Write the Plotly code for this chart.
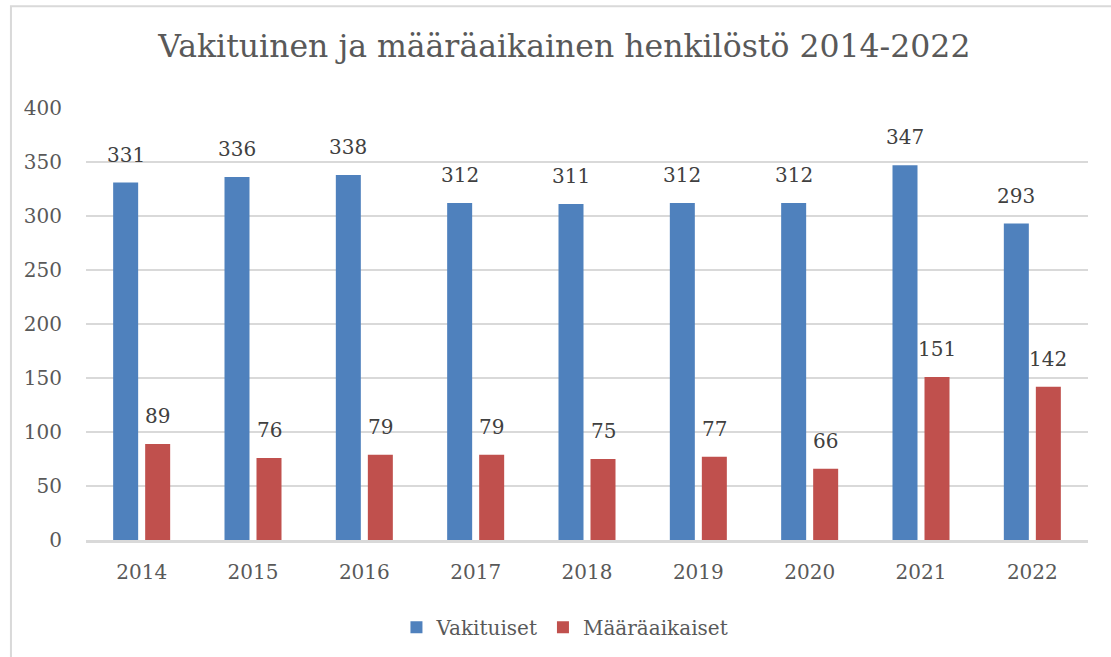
import plotly.graph_objects as go

years = ["2014", "2015", "2016", "2017", "2018", "2019", "2020", "2021", "2022"]
vakituiset = [331, 336, 338, 312, 311, 312, 312, 347, 293]
maaraaikaiset = [89, 76, 79, 79, 75, 77, 66, 151, 142]
series_names = ["Vakituiset", "Määräaikaiset"]
series_colors = ["#4F81BD", "#C0504D"]
title_text = "Vakituinen ja määräaikainen henkilöstö 2014-2022"

FONT = "DejaVu Serif"
BARGAP = 0.425
BARGROUPGAP = 0.219

fig = go.Figure()
for name, vals, col in zip(series_names, [vakituiset, maaraaikaiset], series_colors):
    fig.add_trace(go.Bar(name=name, x=years, y=vals, marker_color=col,
                         marker_line_width=0))

# label positions: category index +/- half of a bar slot
slot = (1 - BARGAP) / 2
annotations = []
for off, vals in zip([-slot / 2, slot / 2], [vakituiset, maaraaikaiset]):
    for i, v in enumerate(vals):
        annotations.append(dict(x=i + off, y=v, xref="x", yref="y", text=str(v),
                                showarrow=False, yshift=14, yanchor="bottom",
                                font=dict(family=FONT, size=20, color="#404040")))

fig.update_layout(
    width=1111, height=657,
    margin=dict(l=86, r=23, t=108, b=116),
    paper_bgcolor="white", plot_bgcolor="white",
    barmode="group", bargap=BARGAP, bargroupgap=BARGROUPGAP,
    title=dict(text=title_text, x=0.508, xanchor="center", y=0.93, yanchor="middle",
               font=dict(family=FONT, size=31.5, color="#595959")),
    font=dict(family=FONT, size=20, color="#595959"),
    legend=dict(orientation="h", x=0.478, xanchor="center", y=-0.199, yanchor="middle",
                font=dict(family=FONT, size=20, color="#595959"),
                itemwidth=30, traceorder="normal"),
    annotations=annotations,
    shapes=[dict(type="rect", xref="paper", yref="paper",
                 x0=-0.0749, x1=1.2, y0=-0.5, y1=1.2356,
                 line=dict(color="#d9d9d9", width=2), layer="below")],
)
fig.update_yaxes(range=[0, 400], dtick=50, showgrid=True, gridcolor="#d9d9d9",
                 gridwidth=1.5, zeroline=False, showline=False, ticks="",
                 ticklabelstandoff=23, tickfont=dict(family=FONT, size=20, color="#595959"))
fig.update_xaxes(type="category", range=[-0.5, len(years) - 0.5],
                 showgrid=False, showline=True, linecolor="#d9d9d9",
                 linewidth=2.5, ticks="", ticklabelstandoff=12,
                 tickfont=dict(family=FONT, size=20, color="#595959"))

fig.write_html("out.html", config={"displayModeBar": False},
               post_script="document.body.style.margin='0';")
